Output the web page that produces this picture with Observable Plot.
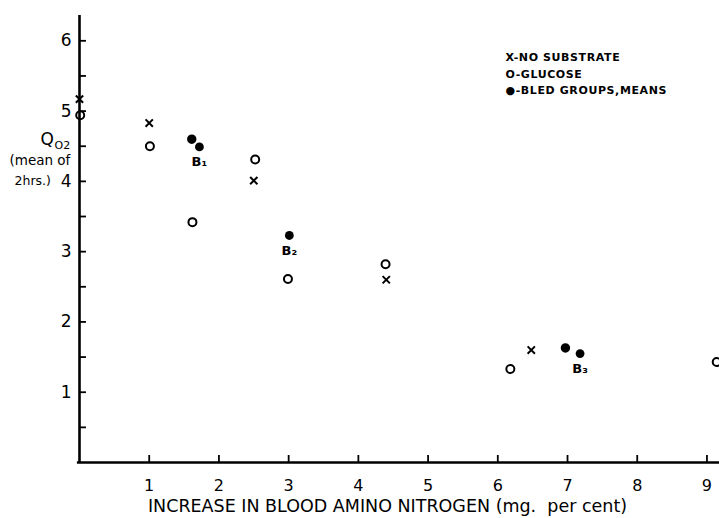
<!DOCTYPE html>
<html><head><meta charset="utf-8">
<script src="https://cdn.jsdelivr.net/npm/d3@7"></script>
<script src="https://cdn.jsdelivr.net/npm/@observablehq/plot@0.6"></script>
<style>body{margin:0;background:#fff} svg{display:block}</style>
</head><body><div id="chart"></div>
<script>
// Data
const noSubstrateX = [0.0, 1.0, 2.5, 4.4, 6.48];
const noSubstrateY = [5.17, 4.83, 4.01, 2.6, 1.6];
const glucoseX = [0.01, 1.01, 1.62, 2.52, 2.99, 4.39, 6.18, 9.14];
const glucoseY = [4.94, 4.5, 3.42, 4.31, 2.61, 2.82, 1.33, 1.43];
const overlapX = [1.61, 6.97];
const overlapY = [4.6, 1.63];
const bledX = [1.72, 3.01, 7.18];
const bledY = [4.49, 3.23, 1.55];
const bledLabels = ["B\u2081", "B\u2082", "B\u2083"];
const xTicks = [1, 2, 3, 4, 5, 6, 7, 8, 9];
const yTicks = [1, 2, 3, 4, 5, 6];
const yMinorTicks = [0.5, 1.5, 2.5, 3.5, 4.5, 5.5];
const legendLines = ["X-NO SUBSTRATE", "O-GLUCOSE", "\u25CF-BLED GROUPS,MEANS"];
const xTitle = "INCREASE IN BLOOD AMINO NITROGEN (mg.  per cent)";

const zip = (xs, ys) => xs.map((x, i) => ({x, y: ys[i]}));
const noSub = zip(noSubstrateX, noSubstrateY);
const gluc = zip(glucoseX, glucoseY);
const over = zip(overlapX, overlapY);
const bled = bledX.map((x, i) => ({x, y: bledY[i], label: bledLabels[i]}));

const font = "DejaVu Sans";
const chart = Plot.plot({
  width: 719, height: 518,
  marginLeft: 79, marginRight: 0, marginTop: 15, marginBottom: 56,
  style: {fontFamily: font, background: "#fff", color: "#000"},
  x: {domain: [0, 9.18], axis: null},
  y: {domain: [0, 6.36], axis: null},
  marks: [
    // axis lines
    Plot.ruleX([0], {y1: 0, y2: 6.36, stroke: "#000", strokeWidth: 2.6}),
    Plot.ruleY([0], {x1: -0.03, x2: 9.18, stroke: "#000", strokeWidth: 2.6}),
    // inward ticks
    Plot.ruleX(xTicks, {x: d => d, y1: 0, y2: 0.1, stroke: "#000", strokeWidth: 1.8}),
    Plot.ruleY(yTicks.concat(yMinorTicks), {y: d => d, x1: 0, x2: 0.1, stroke: "#000", strokeWidth: 1.8}),
    // tick labels
    Plot.text(xTicks, {x: d => d, frameAnchor: "bottom", dy: 28, text: d => String(d), fontSize: 16, fill: "#000"}),
    Plot.text(yTicks, {y: d => d, frameAnchor: "left", textAnchor: "end", dx: -8, text: d => String(d), fontSize: 17, fill: "#000"}),
    // y title
    Plot.text(["Q"], {frameAnchor: "left", y: 4.6, textAnchor: "start", dx: -39, text: d => d, fontSize: 17, fill: "#000"}),
    Plot.text(["O2"], {frameAnchor: "left", y: 4.6, textAnchor: "start", dx: -25, dy: 6, text: d => d, fontSize: 11, fill: "#000"}),
    Plot.text(["(mean of"], {frameAnchor: "left", y: 4.6, textAnchor: "start", dx: -70, dy: 21, text: d => d, fontSize: 13.5, fill: "#000"}),
    Plot.text(["2hrs.)"], {frameAnchor: "left", y: 4.6, textAnchor: "start", dx: -65, dy: 42, text: d => d, fontSize: 12.5, fill: "#000"}),
    // x title
    Plot.text([xTitle], {frameAnchor: "bottom", dx: -12, dy: 49, text: d => d, fontSize: 17.5, fill: "#000"}),
    // legend
    Plot.text([legendLines.join("\n")], {frameAnchor: "top-left", dx: 426, dy: 34, text: d => d, textAnchor: "start", lineAnchor: "top", lineHeight: 1.5, fontSize: 11, fontWeight: "bold", fill: "#000", className: "legend-text"}),
    // data
    Plot.dot(noSub, {x: "x", y: "y", symbol: "times", r: 3.4, stroke: "#000", strokeWidth: 2}),
    Plot.dot(gluc, {x: "x", y: "y", r: 4, stroke: "#000", strokeWidth: 2, fill: "none"}),
    Plot.dot(over, {x: "x", y: "y", r: 3.2, stroke: "#000", strokeWidth: 3, fill: "#000"}),
    Plot.dot(bled, {x: "x", y: "y", r: 4.4, fill: "#000", stroke: "none"}),
    Plot.text(bled, {x: "x", y: "y", text: "label", dy: 15, fontSize: 13, fontWeight: "bold", fill: "#000"})
  ]
});
d3.select(chart).selectAll(".legend-text text").style("letter-spacing", "0.6px");
document.getElementById("chart").appendChild(chart);
</script>
</body></html>
